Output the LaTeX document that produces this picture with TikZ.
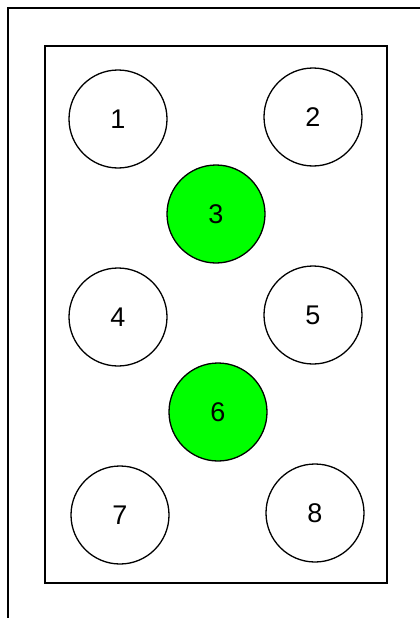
\documentclass[tikz,border=0pt]{standalone}
\usepackage{fontspec}
\setmainfont{Liberation Sans}
\definecolor{litgreen}{RGB}{0,255,0}
\begin{document}
\begin{tikzpicture}[x=1pt,y=-1pt,
  pin/.style={circle,draw=black,line width=1.3pt,minimum size=98pt,inner sep=0pt,
    font=\fontsize{27}{27}\selectfont,fill=white},
  lit/.style={pin,fill=litgreen}]
  \useasboundingbox (0,0) rectangle (420,618);
  % outer frame edges
  \draw[line width=2pt] (8,618) -- (8,8) -- (420,8);
  % board
  \draw[line width=1.5pt] (45,46) rectangle (387,583);
  \node[pin] (p1) at (118,119) {1};
  \node[pin] (p2) at (313,117) {2};
  \node[lit] (p3) at (216,214) {3};
  \node[pin] (p4) at (118,317) {4};
  \node[pin] (p5) at (313,315) {5};
  \node[lit] (p6) at (218,412) {6};
  \node[pin] (p7) at (120,515) {7};
  \node[pin] (p8) at (315,513) {8};
\end{tikzpicture}
\end{document}
